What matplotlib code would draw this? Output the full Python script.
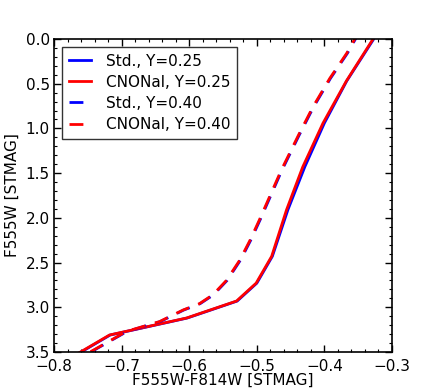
import matplotlib
matplotlib.use('Agg')
import matplotlib.pyplot as plt
from matplotlib.ticker import MultipleLocator

# isochrone points (colour, magnitude)
std_25_col = [-0.322, -0.327, -0.367, -0.400, -0.429, -0.454, -0.477, -0.500, -0.529, -0.603, -0.717, -0.778]
std_25_mag = [-0.1, 0.0, 0.47, 0.94, 1.43, 1.91, 2.43, 2.73, 2.93, 3.12, 3.31, 3.58]
cno_25_col = [-0.323, -0.328, -0.3675, -0.402, -0.432, -0.456, -0.478, -0.501, -0.530, -0.604, -0.718, -0.779]
cno_25_mag = [-0.1, 0.0, 0.47, 0.94, 1.43, 1.91, 2.43, 2.73, 2.93, 3.12, 3.31, 3.58]

std_40_col = [-0.349, -0.354, -0.366, -0.391, -0.416, -0.437, -0.463, -0.495, -0.509, -0.524, -0.544, -0.564, -0.584, -0.608, -0.643, -0.692, -0.741, -0.765]
std_40_mag = [-0.1, 0.0, 0.16, 0.44, 0.76, 1.07, 1.47, 2.02, 2.25, 2.47, 2.70, 2.86, 2.96, 3.03, 3.16, 3.27, 3.48, 3.58]
cno_40_col = [-0.350, -0.355, -0.367, -0.392, -0.417, -0.438, -0.464, -0.496, -0.510, -0.525, -0.545, -0.565, -0.585, -0.609, -0.644, -0.693, -0.742, -0.766]
cno_40_mag = [-0.1, 0.0, 0.16, 0.44, 0.76, 1.07, 1.47, 2.02, 2.25, 2.47, 2.70, 2.86, 2.96, 3.03, 3.16, 3.27, 3.48, 3.58]

labels = ['Std., Y=0.25', 'CNONal, Y=0.25', 'Std., Y=0.40', 'CNONal, Y=0.40']

fig = plt.figure(figsize=(4.36, 3.92), dpi=100)
ax = fig.add_axes([0.124, 0.102, 0.775, 0.7985])

ax.plot(std_25_col, std_25_mag, color='blue', lw=2, label=labels[0])
ax.plot(cno_25_col, cno_25_mag, color='red', lw=2, label=labels[1])
ax.plot(std_40_col, std_40_mag, color='blue', lw=2, ls='--', dashes=(5, 3.5), label=labels[2])
ax.plot(cno_40_col, cno_40_mag, color='red', lw=2, ls='--', dashes=(5, 3.5), label=labels[3])

ax.set_xlim(-0.8, -0.3)
ax.set_ylim(3.5, 0.0)
ax.xaxis.set_major_locator(MultipleLocator(0.1))
ax.xaxis.set_minor_locator(MultipleLocator(0.02))
ax.yaxis.set_major_locator(MultipleLocator(0.5))
ax.yaxis.set_minor_locator(MultipleLocator(0.1))
ax.tick_params(which='both', direction='in', top=True, right=True, labelsize=11)
ax.tick_params(which='major', length=5, width=1)
ax.tick_params(which='minor', length=2.5, width=0.8)
ax.tick_params(axis='y', pad=3)
ax.tick_params(axis='x', pad=5)
for s in ax.spines.values():
    s.set_linewidth(1.2)

ax.set_xlabel('F555W-F814W [STMAG]', fontsize=11, labelpad=-1)
ax.set_ylabel('F555W [STMAG]', fontsize=11, labelpad=4)

leg = ax.legend(loc='upper left', fontsize=11, fancybox=False, handlelength=1.45,
                borderaxespad=0.5, labelspacing=0.4, handletextpad=1.0,
                borderpad=0.45)
leg.get_frame().set_edgecolor('black')
leg.get_frame().set_linewidth(1.0)

fig.savefig('out.png', dpi=100)
